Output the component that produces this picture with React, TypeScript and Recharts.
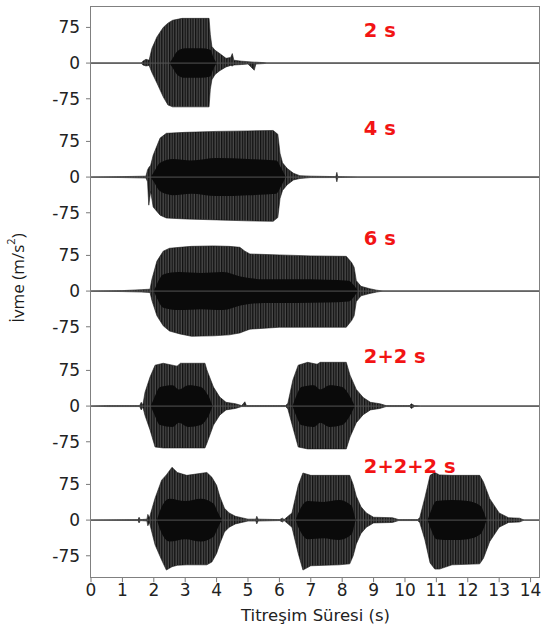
import React from "react";
import {
  Area,
  ComposedChart,
  ReferenceDot,
  ReferenceLine,
  XAxis,
  YAxis,
} from "recharts";

// time (s), upper envelope, lower envelope (m/s2)
type Env = [number, number, number];
// time (s), half width of the dense core (m/s2)
type Core = [number, number];

const timeTicks = [0, 1, 2, 3, 4, 5, 6, 7, 8, 9, 10, 11, 12, 13, 14];
const accelTicks = [-75, 0, 75];
const caseLabels = ["2 s", "4 s", "6 s", "2+2 s", "2+2+2 s"];
const caseLabelLevel = [69, 103, 111, 105, 113];

const env2s: Env[] = [
  [0, 0, 0], [1.6, 0, 0], [1.65, 4, -4], [1.75, 8, -6], [1.85, 6, -5],
  [1.94, 31, -20], [2.1, 55, -42], [2.3, 75, -71], [2.45, 84, -88],
  [2.6, 90, -92], [2.9, 94, -92], [3.76, 94, -92], [3.8, 60, -55],
  [3.85, 35, -35], [3.95, 27, -24], [4.1, 20, -16], [4.3, 10, -8],
  [4.45, 12, -5], [4.5, 20, -6], [4.55, 6, -4], [4.8, 4, -3], [5.0, 3, -2],
  [5.2, 2, -15], [5.25, 2, -2], [5.5, 1, -1], [5.6, 0, 0], [14.3, 0, 0],
];
const core2s: Core[] = [
  [2.5, 0], [2.6, 10], [2.75, 25], [3.0, 31], [3.5, 31], [3.8, 28],
  [3.9, 12], [4.0, 0],
];

const env4s: Env[] = [
  [0, 0, 0], [1.0, 1, -1], [1.75, 2, -2], [1.8, 15, -10], [1.84, 20, -59],
  [1.9, 25, -30], [1.98, 46, -63], [2.2, 82, -80], [2.4, 92, -86],
  [3.0, 94, -88], [4.0, 96, -90], [5.0, 97, -92], [5.8, 98, -93],
  [5.95, 90, -85], [6.02, 50, -45], [6.1, 30, -28], [6.25, 18, -16],
  [6.45, 8, -6], [6.65, 3, -3], [7.0, 2, -1], [7.8, 1, -1], [7.83, 10, -10],
  [7.86, 1, -1], [8.5, 0, 0], [14.3, 0, 0],
];
const core4s: Core[] = [
  [1.9, 0], [2.0, 10], [2.2, 30], [2.6, 38], [3.2, 35], [4.0, 40],
  [5.0, 38], [5.9, 35], [6.05, 20], [6.2, 0],
];

const env6s: Env[] = [
  [0, 0, 0], [1.0, 1, -1], [1.6, 3, -2], [1.88, 4, -3], [1.94, 25, -20],
  [2.1, 63, -52], [2.3, 84, -73], [2.5, 90, -84], [2.83, 92, -90],
  [3.2, 94, -95], [3.9, 95, -94], [4.4, 94, -92], [4.74, 92, -88],
  [4.9, 84, -84], [5.06, 78, -80], [6.0, 76, -76], [7.0, 74, -76],
  [8.13, 73, -76], [8.3, 60, -62], [8.38, 50, -52], [8.45, 22, -22],
  [8.6, 10, -10], [8.88, 5, -5], [9.1, 2, -2], [9.3, 0, 0], [14.3, 0, 0],
];
const core6s: Core[] = [
  [2.0, 0], [2.1, 15], [2.3, 35], [2.8, 40], [3.5, 38], [4.2, 40],
  [4.8, 30], [5.5, 25], [6.5, 25], [7.5, 24], [8.2, 22], [8.4, 10], [8.5, 0],
];

const env22s: Env[] = [
  [0, 0, 0], [0.5, 1, -1], [1.55, 1, -1], [1.6, 8, -8], [1.65, 2, -2],
  [1.72, 29, -20], [1.88, 61, -50], [2.04, 86, -86], [2.3, 90, -88],
  [2.74, 84, -88], [2.85, 90, -88], [3.63, 90, -88], [3.69, 76, -78],
  [3.9, 40, -40], [4.1, 19, -19], [4.3, 8, -8], [4.6, 5, -5], [4.8, 1, -1],
  [4.9, 9, -1], [4.95, 1, -1], [6.2, 1, -1], [6.27, 6, -6], [6.43, 55, -45],
  [6.6, 86, -86], [6.9, 92, -90], [7.2, 88, -90], [7.3, 92, -90],
  [8.13, 92, -90], [8.25, 65, -65], [8.45, 35, -35], [8.67, 18, -18],
  [8.9, 8, -8], [9.2, 5, -5], [9.4, 1, -1], [10.15, 1, -1], [10.2, 5, -5],
  [10.3, 1, -1], [10.5, 0, 0], [14.3, 0, 0],
];
const core22s: Core[] = [
  [1.9, 0], [2.0, 15], [2.2, 40], [2.6, 44], [2.8, 35], [3.1, 44],
  [3.5, 40], [3.75, 20], [3.9, 0],
  [6.4, 0], [6.5, 15], [6.7, 40], [7.1, 44], [7.3, 35], [7.6, 44],
  [8.0, 40], [8.25, 20], [8.4, 0],
];

const env222s: Env[] = [
  [0, 0, 0], [1.5, 1, -1], [1.53, 6, -6], [1.57, 1, -1], [1.78, 2, -2],
  [1.81, 12, -12], [1.86, 5, -5], [2.04, 46, -52], [2.25, 84, -84],
  [2.4, 95, -105], [2.58, 111, -98], [2.75, 100, -95], [3.05, 94, -94],
  [3.69, 100, -94], [3.85, 90, -88], [4.0, 73, -70], [4.1, 50, -50],
  [4.25, 25, -25], [4.4, 15, -15], [4.6, 8, -8], [4.8, 5, -5], [5.0, 2, -2],
  [5.25, 2, -2], [5.28, 8, -8], [5.32, 2, -2], [6.0, 1, -1], [6.1, 4, -4],
  [6.15, 1, -1], [6.4, 15, -15], [6.6, 73, -70], [6.75, 99, -105],
  [7.0, 94, -96], [7.9, 94, -94], [8.24, 94, -92], [8.35, 75, -75],
  [8.45, 50, -50], [8.6, 28, -28], [8.77, 15, -15], [9.0, 6, -6],
  [9.6, 5, -5], [9.8, 1, -1], [10.4, 1, -1], [10.47, 5, -5],
  [10.63, 46, -40], [10.8, 94, -90], [10.95, 100, -103], [11.1, 95, -103],
  [11.5, 94, -94], [12.38, 94, -92], [12.5, 80, -80], [12.7, 45, -45],
  [13.0, 15, -15], [13.3, 5, -5], [13.65, 4, -4], [13.8, 0, 0], [14.3, 0, 0],
];
const core222s: Core[] = [
  [2.1, 0], [2.2, 20], [2.5, 45], [3.0, 40], [3.5, 45], [3.9, 35],
  [4.05, 15], [4.2, 0],
  [6.5, 0], [6.6, 15], [6.9, 40], [7.4, 38], [7.9, 42], [8.3, 30], [8.45, 0],
  [10.7, 0], [10.8, 15], [11.0, 40], [11.5, 42], [12.0, 40], [12.4, 30],
  [12.6, 0],
];

const envelopes = [env2s, env4s, env6s, env22s, env222s];
const cores = [core2s, core4s, core6s, core22s, core222s];

const WIDTH = 542;
const PANEL_H = 114.2;
const AXIS_H = 50;
const TOP = 6;
// spare room above each plot so the case labels are not cut by the svg edge
const HEADROOM = 24;

const tickStyle = { fontSize: 17, fill: "#222", fontFamily: "DejaVu Sans" };

function Panel({ index }: { index: number }) {
  const last = index === envelopes.length - 1;
  const env = envelopes[index].map(([t, hi, lo]) => ({ t, hi, lo }));
  const core = cores[index].map(([t, w]) => ({ t, w }));
  const label = caseLabels[index];
  const pid = `osc${index}`;
  return (
    <ComposedChart
      width={WIDTH}
      height={HEADROOM + PANEL_H + (last ? AXIS_H : 0)}
      margin={{ top: HEADROOM, right: 2, bottom: 0, left: 0 }}
    >
      <defs>
        <pattern id={pid} width={2.6} height={10} patternUnits="userSpaceOnUse">
          <rect width={2.6} height={10} fill="#4a4a4a" />
          <rect width={1.3} height={10} fill="#111" />
        </pattern>
      </defs>
      <XAxis
        type="number"
        dataKey="t"
        domain={[0, 14.3]}
        ticks={timeTicks}
        allowDataOverflow
        hide={!last}
        height={AXIS_H}
        axisLine={false}
        tickLine={{ stroke: "#777" }}
        tickSize={5}
        tickMargin={2}
        tick={tickStyle}
        interval={0}
        label={{
          value: "Titreşim Süresi (s)",
          position: "insideBottom",
          offset: 6,
          fontSize: 16.5,
          fill: "#222",
          fontFamily: "DejaVu Sans",
        }}
      />
      <YAxis
        type="number"
        domain={[-120, 120]}
        ticks={accelTicks}
        allowDataOverflow
        width={91}
        axisLine={false}
        tickLine={{ stroke: "#777" }}
        tickSize={5}
        tickMargin={6}
        tick={tickStyle}
        interval={0}
      />
      <ReferenceLine y={0} stroke="#555" strokeWidth={1} />
      <Area
        data={env}
        dataKey={(d: { hi: number; lo: number }) => [d.lo, d.hi]}
        type="linear"
        fill={`url(#${pid})`}
        fillOpacity={1}
        stroke="#1a1a1a"
        strokeWidth={0.6}
        isAnimationActive={false}
      />
      <Area
        data={core}
        dataKey={(d: { w: number }) => [-d.w, d.w]}
        type="monotone"
        fill="#0a0a0a"
        fillOpacity={1}
        stroke="none"
        isAnimationActive={false}
      />
      <ReferenceDot
        x={8.69}
        y={caseLabelLevel[index]}
        r={0}
        shape={(p: { cx: number; cy: number }) => (
          <text
            x={p.cx}
            y={p.cy}
            dominantBaseline="central"
            fill="#f21414"
            fontWeight="bold"
            fontSize={19.5}
            fontFamily="DejaVu Sans"
          >
            {label}
          </text>
        )}
      />
    </ComposedChart>
  );
}

export default function App() {
  return (
    <div
      style={{
        position: "absolute",
        left: 0,
        top: 0,
        width: WIDTH,
        height: 627,
        background: "#fff",
      }}
    >
      {envelopes.map((_, i) => (
        <div
          key={i}
          style={{
            position: "absolute",
            left: 0,
            top: TOP + i * PANEL_H - HEADROOM,
          }}
        >
          <Panel index={i} />
        </div>
      ))}
      <div
        style={{
          position: "absolute",
          left: 90,
          top: TOP - 0.5,
          width: 450,
          height: PANEL_H * 5 + 1.5,
          border: "1.5px solid #808080",
          boxSizing: "border-box",
          pointerEvents: "none",
        }}
      />
      <svg
        width={40}
        height={627}
        style={{ position: "absolute", left: 0, top: 0 }}
      >
        <text
          transform="translate(17,278) rotate(-90)"
          textAnchor="middle"
          dominantBaseline="central"
          fontFamily="Open Sans"
          fontSize={17}
          fill="#1a1a1a"
        >
          İvme (m/s
          <tspan dy={-7} fontSize={11}>
            2
          </tspan>
          <tspan dy={7}>)</tspan>
        </text>
      </svg>
    </div>
  );
}
